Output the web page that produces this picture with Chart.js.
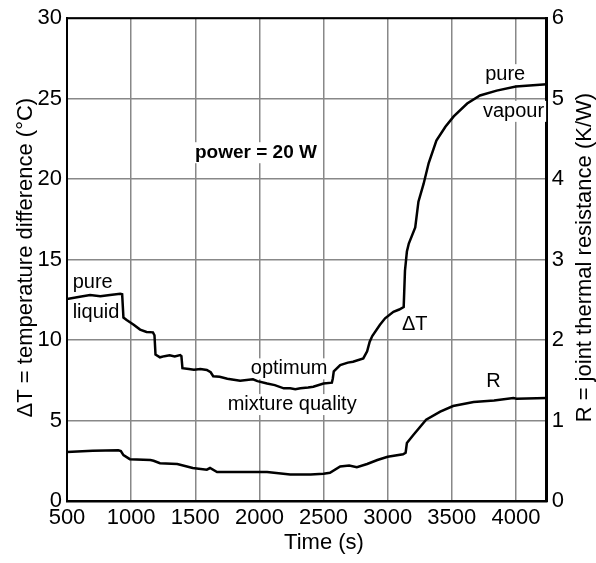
<!DOCTYPE html>
<html>
<head>
<meta charset="utf-8">
<script src="https://cdn.jsdelivr.net/npm/chart.js@4.4.0/dist/chart.umd.min.js"></script>
<style>
  html, body { margin: 0; padding: 0; background: #fff; }
  #wrap { width: 596px; height: 563px; }
</style>
</head>
<body>
<div id="wrap"><canvas id="chart" width="596" height="563"></canvas></div>
<script>
// Datos
const timeDT = [500, 600, 680, 760, 835, 915, 930, 940, 965, 1020,
  1070, 1120, 1170, 1182, 1190, 1225, 1260, 1300, 1340, 1382,
  1392, 1400, 1450, 1490, 1540, 1590, 1620, 1640, 1690, 1750,
  1850, 1950, 1985, 2060, 2120, 2190, 2240, 2280, 2320, 2380,
  2420, 2500, 2565, 2572, 2580, 2630, 2690, 2730, 2810, 2840,
  2860, 2880, 2940, 2980, 3045, 3090, 3125, 3135, 3150, 3165,
  3215, 3240, 3280, 3320, 3380, 3450, 3515, 3620, 3720, 3850,
  4000, 4240];
const deltaT = [12.55, 12.69, 12.8, 12.73, 12.8, 12.88, 12.85, 11.4, 11.25, 10.95,
  10.65, 10.5, 10.48, 10.3, 9.1, 8.93, 9.0, 9.05, 8.98, 9.07,
  9.0, 8.25, 8.2, 8.15, 8.2, 8.14, 8.0, 7.75, 7.72, 7.6,
  7.48, 7.56, 7.45, 7.3, 7.2, 7.0, 7.0, 6.95, 7.0, 7.05,
  7.1, 7.3, 7.35, 7.6, 8.05, 8.45, 8.6, 8.65, 8.86, 9.3,
  9.9, 10.25, 10.95, 11.35, 11.76, 11.9, 12.05, 14.3, 15.5, 16.0,
  17.0, 18.6, 19.7, 21.0, 22.4, 23.25, 23.9, 24.7, 25.2, 25.5,
  25.75, 25.9];

const timeR = [500, 700, 900, 920, 940, 990, 1150, 1175, 1225, 1360,
  1480, 1590, 1615, 1670, 1870, 2060, 2240, 2400, 2500, 2550,
  2630, 2700, 2760, 2840, 2920, 3000, 3120, 3140, 3150, 3200,
  3300, 3410, 3510, 3670, 3830, 3980, 4005, 4240];
const resistance = [0.61, 0.625, 0.63, 0.62, 0.57, 0.52, 0.51, 0.5, 0.47, 0.46,
  0.41, 0.39, 0.41, 0.36, 0.36, 0.36, 0.33, 0.33, 0.34, 0.35,
  0.43, 0.44, 0.42, 0.46, 0.51, 0.55, 0.58, 0.6, 0.72, 0.82,
  1.01, 1.11, 1.18, 1.23, 1.25, 1.28, 1.27, 1.28];

const xTicks = [500, 1000, 1500, 2000, 2500, 3000, 3500, 4000];

// Textos dentro del gráfico (posición en unidades de datos: tiempo, ΔT)
const notes = [
  { text: 'power = 20 W', t: 1498, v: 21.3, bold: true },
  { text: 'pure', t: 544, v: 13.23 },
  { text: 'liquid', t: 544, v: 11.35 },
  { text: 'optimum', t: 1933, v: 7.87 },
  { text: 'mixture quality', t: 1753, v: 5.65 },
  { text: 'ΔT', t: 3111, v: 10.62 },
  { text: 'R', t: 3768, v: 7.06 },
  { text: 'pure', t: 3760, v: 26.15 },
  { text: 'vapour', t: 3743, v: 23.87 }
];

const FONT = "'Liberation Sans', Arial, sans-serif";

const notesPlugin = {
  id: 'notes',
  beforeDatasetsDraw(chart) {
    const ctx = chart.ctx;
    const xs = chart.scales.x, ys = chart.scales.y;
    ctx.save();
    notes.forEach(n => {
      ctx.font = (n.bold ? 'bold 19px ' : '20px ') + FONT;
      const px = xs.getPixelForValue(n.t);
      const py = ys.getPixelForValue(n.v);
      const w = ctx.measureText(n.text).width;
      ctx.fillStyle = '#fff';
      ctx.fillRect(px - 2, py - 16, w + 4, 21);
      ctx.fillStyle = '#000';
      ctx.textAlign = 'left';
      ctx.textBaseline = 'alphabetic';
      ctx.fillText(n.text, px, py);
    });
    // borde superior
    const a = chart.chartArea;
    ctx.strokeStyle = '#000';
    ctx.lineWidth = 2;
    ctx.beginPath();
    ctx.moveTo(a.left, a.top);
    ctx.lineTo(a.right, a.top);
    ctx.stroke();
    ctx.restore();
  },
  afterDraw(chart) {
    const ctx = chart.ctx;
    const a = chart.chartArea;
    const midY = (a.top + a.bottom) / 2 - 2;
    ctx.save();
    ctx.fillStyle = '#000';
    ctx.font = '22px ' + FONT;
    ctx.textAlign = 'center';
    ctx.textBaseline = 'alphabetic';
    ctx.fillText('Time (s)', 324, 549);
    ctx.save();
    ctx.translate(32, midY);
    ctx.rotate(-Math.PI / 2);
    ctx.fillText('ΔT = temperature difference (°C)', 0, 0);
    ctx.restore();
    ctx.save();
    ctx.translate(591, midY);
    ctx.rotate(-Math.PI / 2);
    ctx.fillText('R = joint thermal resistance (K/W)', 0, 0);
    ctx.restore();
    ctx.restore();
  }
};

const gridStyle = { color: '#888', lineWidth: 1.5, drawTicks: false };
const tickFont = { family: FONT, size: 22 };

new Chart(document.getElementById('chart'), {
  type: 'line',
  data: {
    datasets: [
      {
        label: 'ΔT',
        data: timeDT.map((t, i) => ({ x: t, y: deltaT[i] })),
        yAxisID: 'y',
        borderColor: '#000',
        borderWidth: 2.5,
        pointRadius: 0,
        tension: 0,
        fill: false
      },
      {
        label: 'R',
        data: timeR.map((t, i) => ({ x: t, y: resistance[i] })),
        yAxisID: 'y2',
        borderColor: '#000',
        borderWidth: 2.5,
        pointRadius: 0,
        tension: 0,
        fill: false
      }
    ]
  },
  options: {
    responsive: false,
    animation: false,
    layout: { padding: { top: 17.5, left: 0, right: 0, bottom: 0 } },
    plugins: { legend: { display: false }, tooltip: { enabled: false } },
    scales: {
      x: {
        type: 'linear',
        min: 500,
        max: 4240,
        afterBuildTicks: s => { s.ticks = xTicks.map(v => ({ value: v })); },
        afterFit: s => { s.height = 62; },
        ticks: { color: '#000', font: tickFont, padding: 4, maxRotation: 0, autoSkip: false, callback: v => String(v) },
        grid: gridStyle,
        border: { color: '#000', width: 2.5 }
      },
      y: {
        position: 'left',
        min: 0,
        max: 30,
        afterFit: s => { s.width = 67; },
        ticks: { stepSize: 5, color: '#000', font: tickFont, padding: 5 },
        grid: gridStyle,
        border: { color: '#000', width: 2 }
      },
      y2: {
        position: 'right',
        min: 0,
        max: 6,
        afterFit: s => { s.width = 49.3; },
        ticks: { stepSize: 1, color: '#000', font: tickFont, padding: 5 },
        grid: { display: false, drawTicks: false },
        border: { color: '#000', width: 3 }
      }
    }
  },
  plugins: [notesPlugin]
});
</script>
</body>
</html>
